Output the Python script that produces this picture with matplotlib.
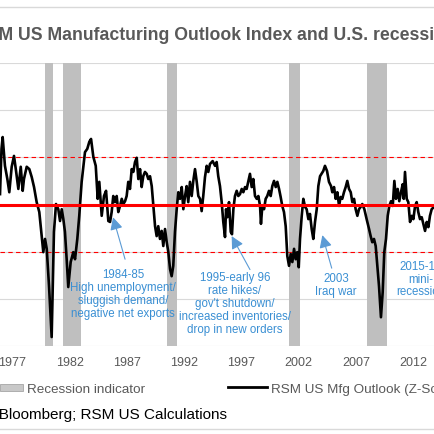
import matplotlib
matplotlib.use('Agg')
import matplotlib.pyplot as plt
from matplotlib.lines import Line2D
from matplotlib.patches import Rectangle

plt.rcParams['font.family'] = ['Liberation Sans', 'DejaVu Sans']

# dados (ano decimal, z-score)
anos = [1975.91, 1976.04, 1976.14, 1976.34, 1976.55, 1976.72, 1976.93, 1977.13, 1977.31, 1977.51,
        1977.72, 1977.89, 1978.00, 1978.24, 1978.47, 1978.68, 1978.88, 1979.11, 1979.34, 1979.55,
        1979.69, 1979.84, 1979.99, 1980.19, 1980.42, 1980.62, 1980.80, 1981.00, 1981.15, 1981.30,
        1981.44, 1981.58, 1981.73, 1981.87, 1982.08, 1982.31, 1982.46, 1982.66, 1982.83, 1983.04,
        1983.33, 1983.53, 1983.71, 1983.86, 1984.06, 1984.27, 1984.44, 1984.58, 1984.79, 1984.99,
        1985.17, 1985.37, 1985.52, 1985.66, 1985.80, 1985.95, 1986.10, 1986.24, 1986.39, 1986.54,
        1986.68, 1986.83, 1986.97, 1987.11, 1987.26, 1987.41, 1987.55, 1987.70, 1987.85, 1987.99,
        1988.14, 1988.28, 1988.42, 1988.57, 1988.72, 1988.86, 1989.01, 1989.16, 1989.30, 1989.45,
        1989.59, 1989.73, 1989.88, 1990.03, 1990.17, 1990.32, 1990.47, 1990.61, 1990.76, 1990.90,
        1991.04, 1991.19, 1991.34, 1991.48, 1991.63, 1991.78, 1991.92, 1992.07, 1992.21, 1992.35,
        1992.50, 1992.65, 1992.79, 1992.94, 1993.09, 1993.23, 1993.38, 1993.52, 1993.66, 1993.81,
        1993.96, 1994.10, 1994.25, 1994.40, 1994.48, 1994.69, 1994.83, 1994.97, 1995.12, 1995.27,
        1995.41, 1995.56, 1995.65, 1995.76, 1995.91, 1996.06, 1996.17, 1996.29, 1996.43, 1996.58,
        1996.72, 1996.87, 1997.02, 1997.16, 1997.31, 1997.45, 1997.59, 1997.74, 1997.89, 1998.03,
        1998.18, 1998.33, 1998.47, 1998.62, 1998.70, 1998.82, 1998.97, 1999.11, 1999.25, 1999.40,
        1999.55, 1999.69, 1999.84, 1999.99, 2000.13, 2000.28, 2000.42, 2000.56, 2000.71, 2000.86,
        2001.00, 2001.15, 2001.30, 2001.44, 2001.59, 2001.73, 2001.87, 2002.00, 2002.11, 2002.26,
        2002.40, 2002.55, 2002.69, 2002.84, 2002.98, 2003.13, 2003.27, 2003.42, 2003.57, 2003.71,
        2003.86, 2004.14, 2004.29, 2004.47, 2004.64, 2004.82, 2004.93, 2005.08, 2005.23, 2005.37,
        2005.52, 2005.66, 2005.80, 2005.95, 2006.10, 2006.24, 2006.39, 2006.54, 2006.68, 2006.83,
        2006.97, 2007.12, 2007.26, 2007.41, 2007.55, 2007.73, 2007.93, 2008.14, 2008.28, 2008.42,
        2008.57, 2008.72, 2008.86, 2009.01, 2009.18, 2009.33, 2009.47, 2009.62, 2009.77, 2009.91,
        2010.06, 2010.21, 2010.35, 2010.49, 2010.64, 2010.78, 2010.93, 2011.08, 2011.17, 2011.28,
        2011.43, 2011.57, 2011.72, 2011.87, 2012.01, 2012.16, 2012.30, 2012.44, 2012.59, 2012.74,
        2012.88, 2013.03, 2013.18, 2013.32, 2013.46, 2013.61, 2013.90, 2014.00]
zscore = [0.22, 1.18, 1.43, 0.82, 0.54, 0.26, 0.80, 1.03, 0.71, 0.33,
          0.80, 0.29, 0.54, 0.80, 0.75, 0.58, 0.37, 0.05, -0.16, -0.67,
          -1.01, -0.73, -0.94, -1.73, -2.81, -0.58, 0.01, -0.10, -0.35, -0.10,
          -0.31, -0.58, -1.16, -1.75, -1.22, -1.01, -1.16, -0.73, -0.24, 0.48,
          1.11, 1.18, 1.33, 1.39, 1.01, 0.82, 0.12, 0.48, -0.24, 0.18,
          0.29, -0.35, -0.37, -0.16, 0.18, 0.05, 0.18, -0.16, -0.03, 0.12,
          0.01, 0.07, 0.18, 0.48, 0.33, 0.75, 0.69, 0.90, 0.99, 0.54,
          0.75, 0.37, 0.60, 0.69, 0.65, 0.54, 0.60, 0.39, -0.03, -0.46,
          -0.67, -0.46, -0.73, -0.56, -0.88, -0.52, -0.80, -1.01, -1.37, -1.52,
          -1.30, -0.58, -0.10, 0.26, 0.12, 0.37, -0.10, 0.18, 0.39, 0.05,
          0.48, 0.18, 0.50, 0.75, 0.48, 0.18, 0.12, -0.14, 0.18, 0.58,
          0.82, 0.69, 0.86, 0.90, 0.92, 0.82, 0.90, 0.60, 0.39, 0.05,
          -0.37, -0.69, -0.10, -0.27, 0.05, -0.58, -0.63, -0.10, 0.18, 0.29,
          0.18, 0.22, 0.33, 0.26, 0.37, 0.33, 0.48, 0.65, 0.37, 0.54,
          0.18, 0.12, 0.18, -0.03, -0.41, -0.03, -0.10, 0.12, 0.18, 0.29,
          0.18, 0.39, 0.50, 0.37, 0.48, 0.33, 0.16, -0.03, -0.16, -0.46,
          -1.09, -1.30, -1.05, -1.22, -0.94, -1.16, -1.01, -1.33, -0.73, -0.24,
          0.12, -0.05, -0.10, -0.31, -0.20, -0.52, -0.73, -0.37, -0.10, 0.39,
          0.60, 0.71, 0.82, 0.71, 0.48, 0.39, 0.26, 0.37, 0.12, 0.26,
          -0.03, 0.16, 0.12, 0.26, 0.37, 0.50, 0.33, 0.26, 0.05, 0.12,
          -0.10, -0.24, -0.10, -0.05, 0.01, -0.10, -0.31, -0.52, -0.67, -0.80,
          -0.73, -0.88, -1.30, -1.73, -2.39, -1.86, -1.01, -0.73, -0.24, -0.03,
          0.07, -0.03, 0.50, 0.12, 0.33, 0.07, 0.26, 0.43, 0.12, 0.69,
          0.12, 0.05, -0.37, -0.24, -0.31, -0.03, 0.05, -0.16, -0.31, -0.27,
          -0.41, -0.56, -0.37, -0.48, -0.24, -0.10, -0.03, -0.03]

# recessões (início, fim)
rec_inicio = [1979.84, 1981.41, 1990.49, 2001.15, 2007.96]
rec_fim = [1980.54, 1982.98, 1991.37, 2002.11, 2009.71]

anos_ticks = [1977, 1982, 1987, 1992, 1997, 2002, 2007, 2012]

cinza = '#595959'
azul_txt = '#3a8fd3'
azul_seta = '#5b9bd5'

fig = plt.figure(figsize=(4.35, 4.35), dpi=100)
ax = fig.add_axes([0, 1 - 347 / 435, 1, 283 / 435])

# faixas de recessão
for a, b in zip(rec_inicio, rec_fim):
    ax.axvspan(a, b, color='#bfbfbf', lw=0, zorder=1)

ax.plot(anos, zscore, color='black', lw=1.9, zorder=4, solid_joinstyle='round')
ax.axhline(0, color='#ff0000', lw=2.2, zorder=5)
for v in (1, -1):
    ax.axhline(v, color='#ff0000', lw=0.8, ls=(0, (4, 3)), zorder=3)

ax.set_xlim(1975.908, 2013.90)
ax.set_ylim(-3, 3)
ax.set_yticks([-3, -2, -1, 0, 1, 2, 3])
ax.set_yticklabels([])
ax.set_xticks(anos_ticks)
ax.set_xticklabels([str(a) for a in anos_ticks])
ax.tick_params(axis='x', length=0, pad=7, labelsize=9, labelcolor=cinza)
ax.tick_params(axis='y', length=0)
ax.grid(axis='y', color='#d9d9d9', lw=0.8, zorder=0)
ax.set_axisbelow(True)
for s in ax.spines.values():
    s.set_visible(False)

# anotações
notas = [
    ('1984-85\nHigh unemployment/\nsluggish demand/\nnegative net exports', 1986.65, -1.35),
    ('1995-early 96\nrate hikes/\ngov\'t shutdown/\nincreased inventories/\ndrop in new orders', 1996.43, -1.42),
    ('2003\nIraq war', 2005.25, -1.44),
    ('2015-16\nmini-\nrecession', 2012.68, -1.17),
]
for txt, x, y in notas:
    ax.text(x, y, txt, ha='center', va='top', fontsize=8.3, color=azul_txt,
            linespacing=1.1, zorder=6)

setas = [((1985.78, -0.27), (1986.83, -1.16)),
         ((1996.14, -0.67), (1997.74, -1.38)),
         ((2004.06, -0.65), (2004.88, -1.35))]
for ponta, base in setas:
    ax.annotate('', xy=ponta, xytext=base,
                arrowprops=dict(arrowstyle='-|>,head_length=0.75,head_width=0.38',
                                color=azul_seta, lw=0.8, shrinkA=0, shrinkB=0),
                zorder=6)

# título, legenda e fonte
fig.text(-26 / 435, 1 - 40 / 435, 'RSM US Manufacturing Outlook Index and U.S. recessions',
         ha='left', va='baseline', fontsize=12.7, fontweight='bold', color=cinza)

fig.add_artist(Rectangle((0, 1 - 391.5 / 435), 22.7 / 435, 7 / 435, transform=fig.transFigure,
                         facecolor='#c8c8c8', edgecolor='#a6a6a6', lw=0.6))
fig.text(27 / 435, 1 - 393.5 / 435, 'Recession indicator', ha='left', va='baseline',
         fontsize=9.7, color=cinza)
fig.add_artist(Line2D([228 / 435, 267 / 435], [1 - 388.3 / 435] * 2, transform=fig.transFigure,
                      color='black', lw=2))
fig.text(271 / 435, 1 - 393.5 / 435, 'RSM US Mfg Outlook (Z-Score)', ha='left', va='baseline',
         fontsize=9.7, color=cinza)

fig.text(-58 / 435, 1 - 419 / 435, 'Source: Bloomberg; RSM US Calculations', ha='left',
         va='baseline', fontsize=11, color='black')

# linhas da moldura
for yy in (8, 430):
    fig.add_artist(Line2D([0, 1], [1 - yy / 435] * 2, transform=fig.transFigure,
                          color='#d9d9d9', lw=1))

fig.savefig('out.png', dpi=100)
